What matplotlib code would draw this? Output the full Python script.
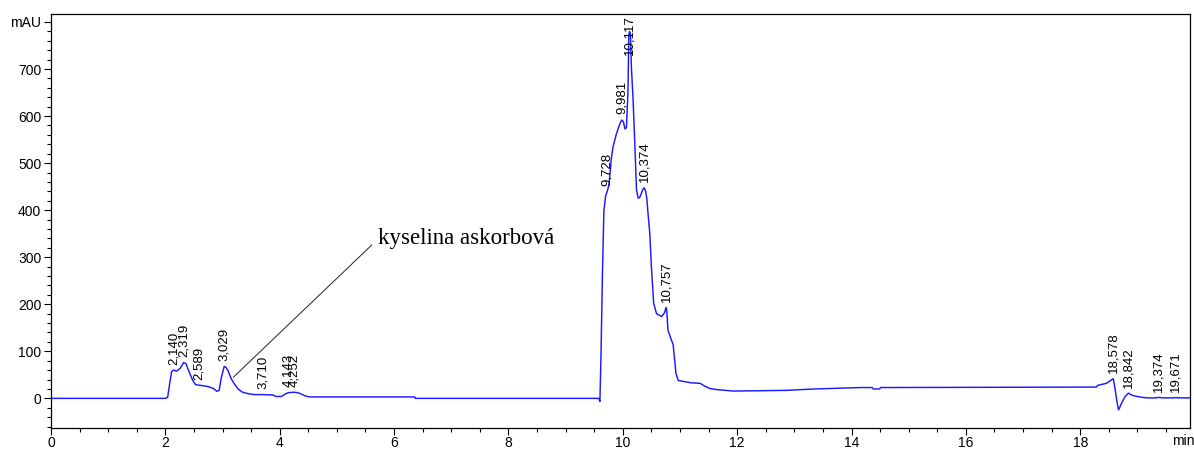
import numpy as np
import matplotlib
matplotlib.use("Agg")
import matplotlib.pyplot as plt
from matplotlib.ticker import MultipleLocator, FixedLocator
import matplotlib.transforms as mtransforms

# ---------------- data ----------------
times = [0.0, 2.00, 2.04, 2.08, 2.11, 2.14, 2.20, 2.26, 2.319, 2.36, 2.42, 2.48, 2.53, 2.589,
         2.65, 2.75, 2.84, 2.90, 2.94, 2.98, 3.029, 3.06, 3.10, 3.15, 3.20, 3.27, 3.35, 3.45,
         3.55, 3.71, 3.89, 3.93, 4.03, 4.08, 4.143, 4.252, 4.32, 4.38, 4.45, 4.53, 6.36, 6.37,
         9.58, 9.60, 9.62, 9.645, 9.67, 9.70, 9.728, 9.76, 9.80, 9.83, 9.89, 9.948, 9.981,
         10.01, 10.04, 10.064, 10.09, 10.105, 10.117, 10.134, 10.15, 10.18, 10.21, 10.24,
         10.27, 10.30, 10.35, 10.374, 10.40, 10.42, 10.44, 10.472, 10.50, 10.54, 10.59, 10.68,
         10.73, 10.757, 10.77, 10.79, 10.85, 10.88, 10.93, 10.97, 11.20, 11.35, 11.45, 11.52,
         11.65, 11.94, 12.86, 13.36, 14.17, 14.36, 14.38, 14.49, 14.51, 18.28, 18.31, 18.46,
         18.578, 18.61, 18.64, 18.67, 18.72, 18.78, 18.842, 18.92, 19.04, 19.16, 19.30, 19.374,
         19.45, 19.62, 19.671, 19.72, 19.92]
signal = [0, 0, 2, 35, 57, 60, 58, 64, 76, 74, 55, 38, 29, 28,
          27, 25, 21, 15, 17, 45, 68, 66, 58, 42, 32, 20, 13, 10,
          8, 8, 7, 4, 4, 8, 12, 13, 12, 9, 5, 3, 3, 0,
          0, -7, 100, 270, 400, 430, 440, 455, 510, 535, 563, 583, 592,
          588, 572, 576, 650, 770, 780, 775, 705, 635, 542, 443,
          425, 428, 444, 448, 440, 425, 395, 351, 280, 202, 180, 174,
          182, 194, 185, 145, 124, 115, 53, 38, 33, 32, 25, 21,
          18.5, 15.5, 17, 20, 23, 23, 20, 20, 23, 24, 27.7, 32,
          42, 20, -5, -25, -11, 3, 11, 6, 3, 1, 1, 2,
          1, 1, 1.5, 1, 1]

peak_times = [2.140, 2.319, 2.589, 3.029, 3.710, 4.143, 4.252, 9.728, 9.981, 10.117,
              10.374, 10.757, 18.578, 18.842, 19.374, 19.671]
peak_labels = [f"{t:.3f}".replace(".", ",") for t in peak_times]

x_ticks = [0, 2, 4, 6, 8, 10, 12, 14, 16, 18]
y_ticks = [0, 100, 200, 300, 400, 500, 600, 700, 800]
y_tick_labels = ["0", "100", "200", "300", "400", "500", "600", "700", "mAU"]

annotation_text = "kyselina askorbová"

# ---------------- figure ----------------
plt.rcParams["font.family"] = ["Liberation Sans", "DejaVu Sans"]
fig = plt.figure(figsize=(11.94, 4.5), dpi=100)
ax = fig.add_axes([51 / 1194, 22 / 450, (1190 - 51) / 1194, (428 - 14) / 450])

ax.plot(times, signal, color="#1a1aff", lw=1.05, solid_joinstyle="miter")

ax.set_xlim(0, 19.92)
ax.set_ylim(-63, 817)

ax.xaxis.set_major_locator(FixedLocator(x_ticks))
ax.xaxis.set_minor_locator(MultipleLocator(0.5))
ax.yaxis.set_major_locator(FixedLocator(y_ticks))
ax.set_yticklabels(y_tick_labels)
ax.yaxis.set_minor_locator(MultipleLocator(20))

ax.tick_params(axis="both", which="major", direction="out", length=5, width=0.8,
               labelsize=10, colors="black")
ax.tick_params(axis="x", which="major", pad=0.5)
ax.tick_params(axis="y", which="major", pad=2)
ax.tick_params(axis="both", which="minor", direction="out", length=3, width=0.8)
ax.tick_params(top=False, right=False)
for s in ax.spines.values():
    s.set_linewidth(0.9)
    s.set_color("black")

# "min" unit label at the right end of the x axis
trans = mtransforms.blended_transform_factory(ax.transData, ax.transAxes)
ax.text(19.6, -0.0155, "min", transform=trans, ha="left", va="top", fontsize=10,
        clip_on=False)

# peak labels
ymax = ax.get_ylim()[1]
for t, lbl in zip(peak_times, peak_labels):
    yv = float(np.interp(t, times, signal))
    if yv > 650:
        ax.annotate(lbl, xy=(t, ymax), xytext=(0, -1), textcoords="offset points",
                    rotation=90, ha="center", va="top", fontsize=9.5)
    else:
        ax.annotate(lbl, xy=(t, yv), xytext=(0, 4), textcoords="offset points",
                    rotation=90, ha="center", va="bottom", fontsize=9.5)

# compound annotation
ax.plot([3.19, 5.61], [45, 326], color="#222222", lw=0.7)
ax.text(5.72, 328, annotation_text, family=["Liberation Serif", "DejaVu Serif"],
        fontsize=16.5, ha="left", va="baseline", color="black")

fig.savefig("out.png", dpi=100)
